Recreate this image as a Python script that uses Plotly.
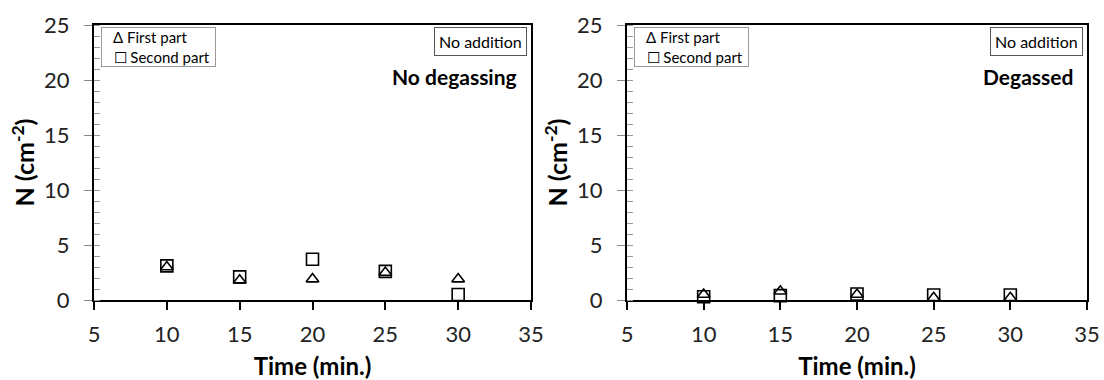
import plotly.graph_objects as go

time = [10, 15, 20, 25, 30]
first_no_degas = [3.0, 1.8, 1.9, 2.5, 1.9]
second_no_degas = [3.1, 2.1, 3.7, 2.6, 0.5]
first_degassed = [0.5, 0.8, 0.5, 0.2, 0.2]
second_degassed = [0.3, 0.4, 0.55, 0.45, 0.45]
series_names = ["First part", "Second part"]
series_glyphs = ["\u0394", "\u2610"]
panel_labels = ["No degassing", "Degassed"]
box_label = "No addition"
x_ticks = [5, 10, 15, 20, 25, 30, 35]
y_ticks = [0, 5, 10, 15, 20, 25]

W, H = 1104, 380
FONT = "Lato, 'Open Sans', sans-serif"
NB = "\u00a0"

panels = [
    dict(x0=94, x1=531, first=first_no_degas, second=second_no_degas, label=panel_labels[0]),
    dict(x0=627, x1=1087, first=first_degassed, second=second_degassed, label=panel_labels[1]),
]
Y0, Y1 = 25, 300  # top, bottom in px

fig = go.Figure()
ydom = [1 - Y1 / H, 1 - Y0 / H]

for i, p in enumerate(panels):
    n = i + 1
    xa = "x" if n == 1 else f"x{n}"
    ya = "y" if n == 1 else f"y{n}"
    fig.add_trace(go.Scatter(x=time, y=p["first"], mode="markers", name=series_names[0],
                             xaxis=xa, yaxis=ya, cliponaxis=False, showlegend=False,
                             marker=dict(symbol="triangle-up-open", size=11, color="black",
                                         line=dict(width=1.6, color="black"))))
    fig.add_trace(go.Scatter(x=time, y=p["second"], mode="markers", name=series_names[1],
                             xaxis=xa, yaxis=ya, cliponaxis=False, showlegend=False,
                             marker=dict(symbol="square-open", size=12, color="black",
                                         line=dict(width=1.6, color="black"))))
    xdom = [p["x0"] / W, p["x1"] / W]
    common_x = dict(range=[5, 35], tickvals=x_ticks, domain=xdom, showline=True,
                    linecolor="black", linewidth=2, mirror=True, showgrid=False,
                    zeroline=False, ticks="outside", ticklen=8, tickwidth=1.5,
                    tickcolor="black", tickfont=dict(family=FONT, size=22, color="#222"),
                    ticklabelstandoff=6,
                    title=dict(text="<b>Time (min.)</b>", font=dict(family=FONT, size=24, color="black"),
                               standoff=12),
                    automargin=False)
    common_y = dict(range=[0, 25], tickvals=y_ticks, domain=ydom, showline=True,
                    linecolor="black", linewidth=2, mirror=True, showgrid=False,
                    zeroline=False, ticks="outside", ticklen=8, tickwidth=1.2,
                    tickcolor="#888", tickfont=dict(family=FONT, size=22, color="#222"),
                    ticklabelstandoff=10,
                    minor=dict(dtick=1, ticks="inside", ticklen=6, tickcolor="#999", tickwidth=1),
                    title=dict(text="<b>N (cm<sup>-2</sup>)</b>", font=dict(family=FONT, size=25, color="black"),
                               standoff=2),
                    automargin=False)
    fig.update_layout(**{
        ("xaxis" if n == 1 else f"xaxis{n}"): dict(anchor=ya, **common_x),
        ("yaxis" if n == 1 else f"yaxis{n}"): dict(anchor=xa, **common_y),
    })
    # overlay axes so that major ticks cross the axis line
    ox = f"xaxis{n + 2}"
    oy = f"yaxis{n + 2}"
    fig.update_layout(**{
        ox: dict(overlaying=xa, anchor=ya, range=[5, 35], tickvals=x_ticks, domain=xdom,
                 ticks="inside", ticklen=7, tickwidth=1.5, tickcolor="black",
                 showticklabels=False, showline=False, showgrid=False, zeroline=False,
                 automargin=False),
        oy: dict(overlaying=ya, anchor=xa, range=[0, 25], tickvals=y_ticks, domain=ydom,
                 ticks="inside", ticklen=7, tickwidth=1.2, tickcolor="#888",
                 showticklabels=False, showline=False, showgrid=False, zeroline=False,
                 automargin=False),
    })
    # legend box (text with marker glyphs, as in the original)
    legend_text = "<br>".join(f"{NB}{NB}{NB}{g}{NB}{s}" for g, s in zip(series_glyphs, series_names))
    fig.add_annotation(xref="paper", yref="paper", x=(p["x0"] + 7) / W, y=1 - (Y0 + 2) / H,
                       xanchor="left", yanchor="top", align="left", text=legend_text,
                       width=113, showarrow=False, font=dict(family=FONT, size=15, color="black"),
                       bordercolor="#999", borderwidth=1, borderpad=0, bgcolor="white")
    fig.add_annotation(xref="paper", yref="paper", x=(p["x1"] - 4) / W, y=1 - (Y0 + 2) / H,
                       xanchor="right", yanchor="top", text=box_label, showarrow=False,
                       font=dict(family=FONT, size=16, color="black"),
                       bordercolor="#555", borderwidth=1, borderpad=4, bgcolor="white")
    fig.add_annotation(xref="paper", yref="paper", x=(p["x1"] - 12) / W, y=1 - 77 / H,
                       xanchor="right", yanchor="middle", text=f"<b>{p['label']}</b>",
                       showarrow=False, font=dict(family=FONT, size=21, color="black"))

fig.update_layout(width=W, height=H, margin=dict(l=0, r=0, t=0, b=0),
                  paper_bgcolor="white", plot_bgcolor="white", showlegend=False)

fig.write_html("out.html", config={"displayModeBar": False},
               post_script="document.body.style.margin='0px';document.body.style.overflow='hidden';")
